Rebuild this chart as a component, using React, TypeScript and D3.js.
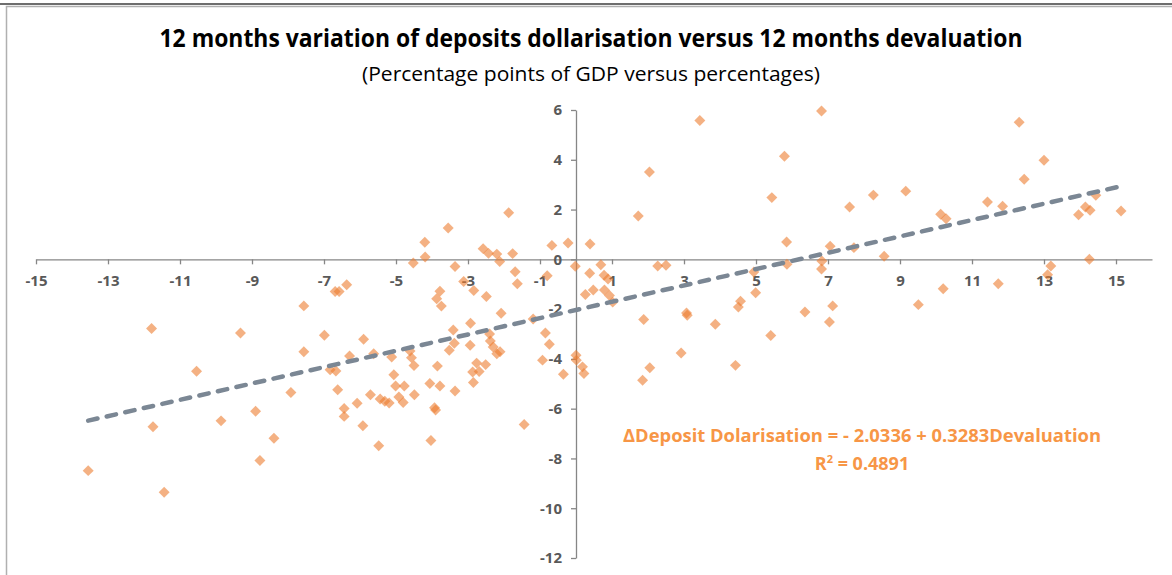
import React, { useEffect, useRef } from 'react';
import * as d3 from 'd3';

// 12 months devaluation (%)
const devaluation = [
  -13.55, -11.79, -11.75, -11.44, -10.54, -9.86, -9.32, -8.9, -8.78, -8.39, -7.92, -7.56, -7.56,
  -6.99, -6.83, -6.67, -6.69, -6.58, -6.37, -6.62, -6.44, -6.44, -6.29, -6.08, -5.9, -5.92, -5.71,
  -5.62, -5.48, -5.44, -5.31, -5.19, -5.12, -5.06, -5.01, -4.92, -4.8, -4.77, -4.61, -4.57, -4.5,
  -4.49, -4.52, -4.2, -4.19, -4.06, -4.03, -3.93, -3.9,
  -3.85, -3.78, -3.87, -3.74, -3.78, -3.55, -3.36, -3.12, -2.84, -3.41, -3.38, -3.52, -3.36, -2.93,
  -2.94, -2.76, -2.51, -2.87, -2.69, -2.85, -2.58, -2.43, -2.2, -2.12, -1.76, -1.87, -1.69, -1.63,
  -2.49, -2.08, -2.4, -2.38, -2.3, -2.11, -2.2, -1.19, -0.85, -0.74, -0.93, -0.35, -1.44, -0.67,
  -0.22, -0.8, -0.02,
  0.39, 0.38, 0.69, 0.78, 0.89, 0.26, 0.48, 0.79, 0.93, 1.02, 0.0, 0.01, 0.18, 0.22, 1.73, 2.04,
  1.88, 1.85, 2.05,
  2.27, 2.5, 3.07, 3.09, 2.92, 3.44, 3.87, 4.43, 4.57, 4.51, 4.94, 4.99, 5.41, 5.44, 5.79, 5.85,
  5.86, 6.36, 6.82, 6.83, 6.82, 7.06, 7.13, 7.04, 7.6, 7.72, 8.26, 8.56, 9.16, 9.51, 10.13, 10.28,
  10.2, 11.43, 11.73, 11.85, 12.31, 12.45, 13.0, 13.19, 13.1, 13.96, 14.15, 14.28, 14.26, 14.44,
  15.14,
];

// 12 months variation of deposits dollarisation (pp of GDP)
const dollarisation = [
  -8.49, -2.78, -6.73, -9.36, -4.5, -6.49, -2.96, -6.1, -8.08, -7.19, -5.35, -1.87, -3.71,
  -3.05, -4.44, -4.49, -1.29, -1.29, -1.02, -5.24, -5.99, -6.31, -3.88, -5.78, -3.21, -6.69, -5.44,
  -3.79, -7.49, -5.61, -5.7, -5.77, -3.92, -4.64, -5.09, -5.53, -5.75, -5.09, -3.68, -3.95, -4.27,
  -5.44, -0.15, 0.69, 0.09, -4.99, -7.28, -5.96, -6.05,
  -4.29, -1.28, -1.58, -1.88, -5.09, 1.26, -0.29, -0.89, -1.25, -2.84, -3.37, -3.65, -5.29, -2.57,
  -3.45, -4.17, -4.23, -4.53, -4.51, -4.95, 0.43, 0.24, 0.21, -0.09, 0.23, 1.87, -0.5, -0.98,
  -1.49, -2.17, -3.0, -3.28, -3.52, -3.71, -3.79, -2.4, -2.96, -3.41, -4.05, -4.62, -6.64, 0.56,
  0.66, -0.66, -0.28,
  0.62, -0.56, -0.22, -0.64, -0.79, -1.41, -1.23, -1.23, -1.45, -1.72, -3.85, -4.05, -4.32, -4.59,
  1.74, 3.51, -2.42, -4.86, -4.36,
  -0.27, -0.24, -2.16, -2.25, -3.76, 5.58, -2.61, -4.26, -1.68, -1.92, -0.51, -1.34, -3.06, 2.48,
  4.14, 0.7, -0.2, -2.12, 5.96, -0.07, -0.39, 0.53, -1.87, -2.52, 2.1, 0.47, 2.58, 0.12, 2.74,
  -1.82, 1.81, 1.63, -1.18, 2.3, -0.98, 2.13, 5.51, 3.22, 3.98, -0.27, -0.62, 1.79, 2.1, 1.97, 0.0,
  2.57, 1.94,
];

const xTicks = [-15, -13, -11, -9, -7, -5, -3, -1, 1, 3, 5, 7, 9, 11, 13, 15];
const yTicks = [-12, -10, -8, -6, -4, -2, 0, 2, 4, 6];

const intercept = -2.0336;
const slope = 0.3283;

const title = '12 months variation of deposits dollarisation versus 12 months devaluation';
const subtitle = '(Percentage points of GDP versus percentages)';
const equation = 'ΔDeposit Dolarisation = - 2.0336 + 0.3283Devaluation';
const rSquared = '0.4891';

const W = 1172;
const H = 575;
const FONT = "'Liberation Sans Narrow', 'Open Sans', 'Noto Sans', sans-serif";
const TICK_FONT = "'Open Sans', 'Noto Sans', sans-serif";

function App() {
  const ref = useRef<SVGSVGElement>(null);

  useEffect(() => {
    const svg = d3.select(ref.current);
    svg.selectAll('*').remove();

    const x = d3.scaleLinear().domain([-15, 16]).range([36, 1152]);
    const y = d3.scaleLinear().domain([-12, 6]).range([558, 110]);

    // frame
    svg.append('rect')
      .attr('x', 6.5).attr('y', 6.5).attr('width', W).attr('height', H)
      .attr('fill', 'white').attr('stroke', '#b0b0b0').attr('stroke-width', 1.5);
    svg.append('line')
      .attr('x1', 0).attr('x2', W).attr('y1', 4).attr('y2', 4)
      .attr('stroke', '#6e6e6e').attr('stroke-width', 2);

    svg.append('text')
      .attr('x', 591).attr('y', 47)
      .attr('text-anchor', 'middle')
      .attr('font-family', FONT).attr('font-weight', 700).attr('font-size', 25)
      .attr('textLength', 863).attr('lengthAdjust', 'spacingAndGlyphs')
      .attr('fill', '#000')
      .text(title);

    svg.append('text')
      .attr('x', 591).attr('y', 81)
      .attr('text-anchor', 'middle')
      .attr('font-family', FONT).attr('font-size', 20)
      .attr('textLength', 458).attr('lengthAdjust', 'spacingAndGlyphs')
      .attr('fill', '#000')
      .text(subtitle);

    const styleAxis = (g: any) => {
      g.select('.domain').attr('stroke', '#868686').attr('stroke-width', 1.3);
      g.selectAll('.tick line').attr('stroke', '#868686').attr('stroke-width', 1.3);
      g.selectAll('.tick text')
        .attr('fill', '#595959')
        .attr('font-family', TICK_FONT)
        .attr('font-weight', 700)
        .attr('font-size', 15);
    };

    const xAxis = d3.axisBottom(x)
      .tickValues(xTicks)
      .tickSize(5)
      .tickSizeOuter(0)
      .tickPadding(11)
      .tickFormat(d => String(d));
    svg.append('g')
      .attr('transform', `translate(0,${y(0)})`)
      .call(xAxis)
      .call(styleAxis);

    const yAxis = d3.axisLeft(y)
      .tickValues(yTicks)
      .tickSize(5)
      .tickSizeOuter(0)
      .tickPadding(9)
      .tickFormat(d => String(d));
    svg.append('g')
      .attr('transform', `translate(${x(0)},0)`)
      .call(yAxis)
      .call(styleAxis);

    const points = devaluation.map((d, i) => [d, dollarisation[i]]);
    const diamond = d3.symbol().type(d3.symbolSquare).size(60);
    svg.append('g')
      .selectAll('path')
      .data(points)
      .enter()
      .append('path')
      .attr('d', diamond)
      .attr('transform', d => `translate(${x(d[0])},${y(d[1])}) rotate(45)`)
      .attr('fill', '#ed7d31')
      .attr('fill-opacity', 0.6);

    const [xMin, xMax] = d3.extent(devaluation) as [number, number];
    const trend = d3.line<number>()
      .x(d => x(d))
      .y(d => y(intercept + slope * d));
    svg.append('path')
      .attr('d', trend([xMin, xMax]))
      .attr('fill', 'none')
      .attr('stroke', '#7b8794')
      .attr('stroke-width', 4.5)
      .attr('stroke-linecap', 'round')
      .attr('stroke-dasharray', '9.5 9.5');

    svg.append('text')
      .attr('x', 862).attr('y', 442)
      .attr('text-anchor', 'middle')
      .attr('font-family', FONT).attr('font-weight', 700).attr('font-size', 18)
      .attr('textLength', 478).attr('lengthAdjust', 'spacingAndGlyphs')
      .attr('fill', '#f79646')
      .text(equation);

    const r2 = svg.append('text')
      .attr('x', 862).attr('y', 470)
      .attr('text-anchor', 'middle')
      .attr('font-family', FONT).attr('font-weight', 700).attr('font-size', 18)
      .attr('fill', '#f79646');
    r2.append('tspan').text('R');
    r2.append('tspan').attr('font-size', 11).attr('dy', -7).text('2');
    r2.append('tspan').attr('dy', 7).text(` = ${rSquared}`);
  }, []);

  return (
    <div style={{ position: 'absolute', left: 0, top: 0 }}>
      <svg ref={ref} width={W} height={H} style={{ display: 'block' }} />
    </div>
  );
}

export default App;
